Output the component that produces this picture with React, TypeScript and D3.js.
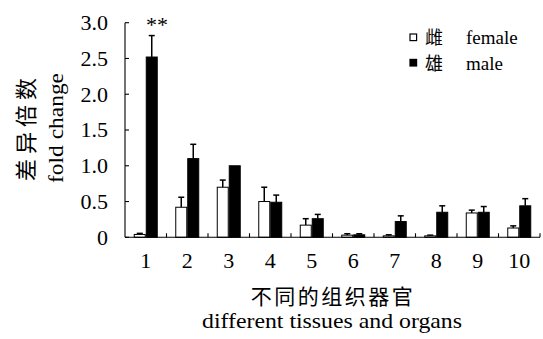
import React from "react";
import { scaleBand, scaleLinear } from "d3";

const tissues = ["1", "2", "3", "4", "5", "6", "7", "8", "9", "10"];
const femaleValues = [0.04, 0.42, 0.7, 0.5, 0.17, 0.03, 0.02, 0.02, 0.34, 0.13];
const femaleErrors = [0.015, 0.14, 0.1, 0.2, 0.09, 0.02, 0.015, 0.01, 0.04, 0.03];
const maleValues = [2.52, 1.1, 1.0, 0.49, 0.26, 0.035, 0.22, 0.35, 0.35, 0.44];
const maleErrors = [0.3, 0.2, 0, 0.1, 0.06, 0.015, 0.08, 0.09, 0.08, 0.1];
const yTicks = [0, 0.5, 1.0, 1.5, 2.0, 2.5, 3.0];
const seriesKeys = ["female", "male"];

const serif = "'Liberation Serif', 'Times New Roman', 'Noto Sans CJK SC', serif";
const cjk = "'Noto Sans CJK SC', sans-serif";

const App = () => {
  const width = 543;
  const height = 339;
  const left = 125;
  const right = 540;
  const top = 22.7;
  const bottom = 237.3;

  const x = scaleBand().domain(tissues).range([left, right]).padding(0);
  const inner = scaleBand()
    .domain(seriesKeys)
    .range([0, x.bandwidth()])
    .paddingInner(0)
    .paddingOuter(0.73);
  const y = scaleLinear().domain([0, 3]).range([bottom, top]);

  const series = [
    { key: "female", values: femaleValues, errors: femaleErrors, fill: "#fff" },
    { key: "male", values: maleValues, errors: maleErrors, fill: "#000" },
  ];

  const bw = inner.bandwidth();

  return (
    <svg width={width} height={height} style={{ position: "absolute", left: 0, top: 0 }}>
      <rect width={width} height={height} fill="#fff" />
      {/* bars */}
      {series.map((s) =>
        s.values.map((v, i) => {
          const bx = (x(tissues[i]) as number) + (inner(s.key) as number);
          const cx = bx + bw / 2;
          const yTop = y(v);
          const yErr = y(v + s.errors[i]);
          return (
            <g key={s.key + i}>
              {s.errors[i] > 0 && (
                <g stroke="#000" strokeWidth={1.5}>
                  <line x1={cx} x2={cx} y1={yTop} y2={yErr} />
                  <line x1={cx - 3} x2={cx + 3} y1={yErr} y2={yErr} />
                </g>
              )}
              <rect
                x={bx + 0.5}
                y={yTop}
                width={bw - 1}
                height={bottom - yTop}
                fill={s.fill}
                stroke="#000"
                strokeWidth={1}
              />
            </g>
          );
        })
      )}
      {/* y axis */}
      <line x1={left} x2={left} y1={top} y2={bottom} stroke="#000" strokeWidth={1.1} />
      {yTicks.map((t) => (
        <g key={t}>
          <line x1={left} x2={left + 4} y1={y(t)} y2={y(t)} stroke="#000" strokeWidth={1.1} />
          <text
            x={108}
            y={y(t)}
            dy="0.34em"
            textAnchor="end"
            fontFamily={serif}
            fontSize={22}
          >
            {t === 0 ? "0" : t.toFixed(1)}
          </text>
        </g>
      ))}
      {/* x axis */}
      <line x1={left} x2={right} y1={bottom} y2={bottom} stroke="#000" strokeWidth={1.1} />
      {tissues.map((c) => (
        <g key={c}>
          <line
            x1={(x(c) as number) + x.bandwidth()}
            x2={(x(c) as number) + x.bandwidth()}
            y1={bottom}
            y2={bottom - 4}
            stroke="#000"
            strokeWidth={1.1}
          />
          <text
            x={(x(c) as number) + x.bandwidth() / 2}
            y={268}
            textAnchor="middle"
            fontFamily={serif}
            fontSize={22}
          >
            {c}
          </text>
        </g>
      ))}
      {/* significance */}
      <text x={157} y={32} textAnchor="middle" fontFamily={serif} fontSize={22}>
        **
      </text>
      {/* y title */}
      <text
        transform="translate(34,127) rotate(-90)"
        textAnchor="middle"
        fontFamily={cjk}
        fontSize={22}
        letterSpacing={5}
      >
        差异倍数
      </text>
      <text
        transform="translate(63,128) rotate(-90)"
        textAnchor="middle"
        fontFamily={serif}
        fontSize={22}
        textLength={110}
        lengthAdjust="spacingAndGlyphs"
      >
        fold change
      </text>
      {/* x title */}
      <text x={333} y={304} textAnchor="middle" fontFamily={cjk} fontSize={21} letterSpacing={2.5}>
        不同的组织器官
      </text>
      <text
        x={332}
        y={328}
        textAnchor="middle"
        fontFamily={serif}
        fontSize={22}
        textLength={260}
        lengthAdjust="spacingAndGlyphs"
      >
        different tissues and organs
      </text>
      {/* legend */}
      {series.map((s, i) => (
        <g key={s.key} transform={`translate(0,${37.3 + i * 25.4})`}>
          <rect x={410} y={-3.3} width={6.6} height={6.6} fill={s.fill} stroke="#000" strokeWidth={1.2} />
          <text x={425} y={7} fontFamily={cjk} fontSize={18}>
            {i === 0 ? "雌" : "雄"}
          </text>
          <text x={466} y={7} fontFamily={serif} fontSize={19}>
            {s.key}
          </text>
        </g>
      ))}
    </svg>
  );
};

export default App;
